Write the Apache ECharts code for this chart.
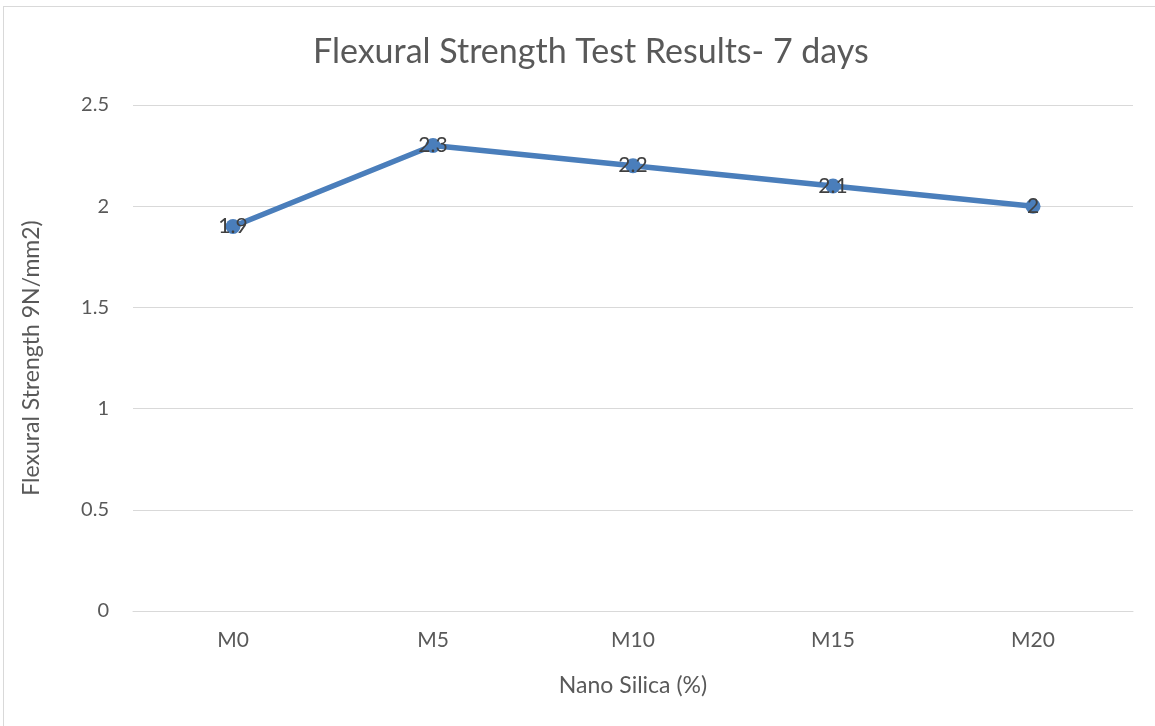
<!DOCTYPE html>
<html><head><meta charset="utf-8">
<script src="https://cdn.jsdelivr.net/npm/echarts@6/dist/echarts.min.js"></script>
<style>html,body{margin:0;padding:0;background:#fff}#c{position:absolute;left:0;top:0;width:1155px;height:726px}
#b{position:absolute;left:3px;top:6px;width:1160px;height:730px;border:1px solid #d9d9d9;box-sizing:border-box;pointer-events:none}</style>
</head><body><div id="c"></div><div id="b"></div>
<script>
const categories = ['M0','M5','M10','M15','M20'];
const values = [1.9, 2.3, 2.2, 2.1, 2.0];
const chart = echarts.init(document.getElementById('c'));
const font = 'Lato, "Open Sans", sans-serif';
chart.setOption({
  animation:false,
  title:{text:'Flexural Strength Test Results- 7 days',left:308,top:30,
    textStyle:{fontFamily:font,fontSize:34,fontWeight:'normal',color:'#595959'}},
  grid:{left:133,right:22,top:105,bottom:115},
  xAxis:{type:'category',data:categories,boundaryGap:true,
    name:'Nano Silica (%)',nameLocation:'middle',nameGap:63,
    nameTextStyle:{fontFamily:font,fontSize:23,color:'#595959'},
    axisLine:{lineStyle:{color:'#d9d9d9'}},axisTick:{show:false},
    axisLabel:{fontFamily:font,fontSize:21,color:'#595959',margin:19}},
  yAxis:{type:'value',min:0,max:2.5,interval:0.5,
    name:'Flexural Strength 9N/mm2)',nameLocation:'middle',nameGap:90,
    nameTextStyle:{fontFamily:font,fontSize:23,color:'#595959'},
    axisLine:{show:false},axisTick:{show:false},
    splitLine:{lineStyle:{color:'#d9d9d9',width:1}},
    axisLabel:{fontFamily:font,fontSize:20,color:'#595959',margin:24,formatter:v=>String(v)}},
  series:[{type:'line',data:values,symbol:'circle',symbolSize:15,
    lineStyle:{color:'#4a7ebb',width:5.5},itemStyle:{color:'#4a7ebb'},
    label:{show:true,position:'inside',fontFamily:font,fontSize:21,color:'#404040'}}]
});
</script></body></html>
